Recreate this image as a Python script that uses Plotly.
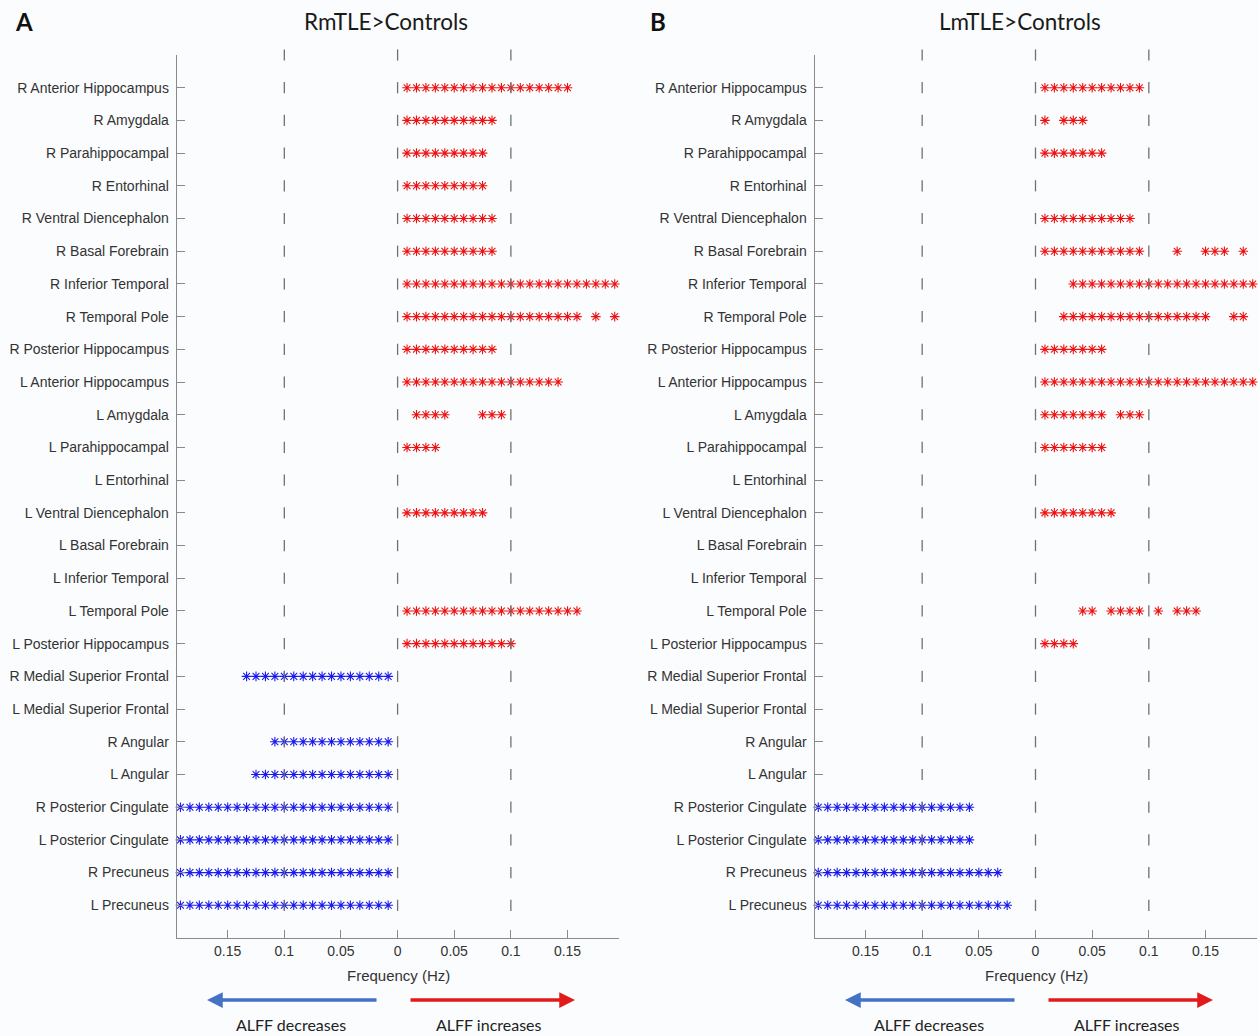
import plotly.graph_objects as go

# ---------------- data ----------------
regions = [
    "R Anterior Hippocampus", "R Amygdala", "R Parahippocampal", "R Entorhinal",
    "R Ventral Diencephalon", "R Basal Forebrain", "R Inferior Temporal",
    "R Temporal Pole", "R Posterior Hippocampus", "L Anterior Hippocampus",
    "L Amygdala", "L Parahippocampal", "L Entorhinal", "L Ventral Diencephalon",
    "L Basal Forebrain", "L Inferior Temporal", "L Temporal Pole",
    "L Posterior Hippocampus", "R Medial Superior Frontal", "L Medial Superior Frontal",
    "R Angular", "L Angular", "R Posterior Cingulate", "L Posterior Cingulate",
    "R Precuneus", "L Precuneus",
]

# frequency resolution of the ALFF spectrum (bin 12 falls on 0.1 Hz)
freq_step = 0.1 / 12

# significant frequency bins, given as (first bin, last bin) runs, per region
# Panel A: RmTLE > Controls
A_increases = [
    [(1, 18)], [(1, 10)], [(1, 9)], [(1, 9)], [(1, 10)], [(1, 10)], [(1, 23)],
    [(1, 19), (21, 21), (23, 23)], [(1, 10)], [(1, 17)], [(2, 5), (9, 11)],
    [(1, 4)], [], [(1, 9)], [], [], [(1, 19)], [(1, 12)],
    [], [], [], [], [], [], [], [],
]
A_decreases = [
    [], [], [], [], [], [], [], [], [], [], [], [], [], [], [], [], [], [],
    [(1, 16)], [], [(1, 13)], [(1, 15)], [(1, 23)], [(1, 23)], [(1, 23)], [(1, 23)],
]
# Panel B: LmTLE > Controls
B_increases = [
    [(1, 11)], [(1, 1), (3, 5)], [(1, 7)], [], [(1, 10)],
    [(1, 11), (15, 15), (18, 20), (22, 22)], [(4, 23)], [(3, 18), (21, 22)],
    [(1, 7)], [(1, 23)], [(1, 7), (9, 11)], [(1, 7)], [], [(1, 8)], [], [],
    [(5, 6), (8, 11), (13, 13), (15, 17)], [(1, 4)],
    [], [], [], [], [], [], [], [],
]
B_decreases = [
    [], [], [], [], [], [], [], [], [], [], [], [], [], [], [], [], [], [],
    [], [], [], [], [(7, 23)], [(7, 23)], [(4, 23)], [(3, 23)],
]

guide_freqs = [-0.1, 0.0, 0.1]
xtick_vals = [-0.15, -0.1, -0.05, 0, 0.05, 0.1, 0.15]
xtick_text = ["0.15", "0.1", "0.05", "0", "0.05", "0.1", "0.15"]
panel_titles = ["RmTLE>Controls", "LmTLE>Controls"]
panel_letters = ["A", "B"]

# ---------------- figure ----------------
W, H = 1258, 1036
RED = "#ee1111"
BLUE = "#1a1aee"
GUIDE = "#707070"
AXIS = "#8a8a8a"
BG = "#fbfcfd"


def points(runs_per_region, sign):
    xs, ys = [], []
    for i, runs in enumerate(runs_per_region):
        for a, b in runs:
            for k in range(a, b + 1):
                xs.append(sign * k * freq_step)
                ys.append(i + 1)
    return xs, ys


fig = go.Figure()
panels = [(A_increases, A_decreases), (B_increases, B_decreases)]
axes = [("x", "y"), ("x2", "y2")]
for (inc, dec), (xa, ya) in zip(panels, axes):
    for runs, sign, col in [(inc, 1, RED), (dec, -1, BLUE)]:
        xs, ys = points(runs, sign)
        fig.add_trace(go.Scatter(
            x=xs, y=ys, xaxis=xa, yaxis=ya, mode="markers", cliponaxis=False,
            marker=dict(symbol="asterisk-open", size=8, color=col,
                        line=dict(color=col, width=1.1)),
            hoverinfo="skip", showlegend=False))
    gx, gy = [], []
    for r in range(len(regions) + 1):
        for f in guide_freqs:
            gx.append(f)
            gy.append(r)
    fig.add_trace(go.Scatter(
        x=gx, y=gy, xaxis=xa, yaxis=ya, mode="markers", cliponaxis=False,
        marker=dict(symbol="line-ns-open", size=8, color=GUIDE,
                    line=dict(color=GUIDE, width=1.3)),
        hoverinfo="skip", showlegend=False))

ydom = [1 - 938 / H, 1 - 55 / H]
xdoms = [[176.7 / W, 618.5 / W], [814.5 / W, 1256.5 / W]]

common_x = dict(range=[-0.195, 0.195], tickvals=xtick_vals, ticktext=xtick_text,
                ticks="inside", ticklen=8, tickcolor=AXIS, showline=True,
                linecolor=AXIS, linewidth=1, showgrid=False, zeroline=False,
                tickfont=dict(family="Arial, Liberation Sans", size=14, color="#333333"))
common_y = dict(range=[27, 0], tickvals=list(range(1, len(regions) + 1)),
                ticktext=regions, ticks="inside", ticklen=8, tickcolor=AXIS,
                showline=True, linecolor=AXIS, linewidth=1, showgrid=False,
                zeroline=False, ticklabelstandoff=4,
                tickfont=dict(family="Arial, Liberation Sans", size=14, color="#333333"))

fig.update_layout(
    width=W, height=H, margin=dict(l=0, r=0, t=0, b=0),
    paper_bgcolor=BG, plot_bgcolor=BG,
    xaxis=dict(domain=xdoms[0], anchor="y", **common_x),
    yaxis=dict(domain=ydom, anchor="x", **common_y),
    xaxis2=dict(domain=xdoms[1], anchor="y2", **common_x),
    yaxis2=dict(domain=ydom, anchor="x2", **common_y),
)

ann = []
zero_px = [398, 1036]
title_px = [386, 1020]
letter_px = [24, 658]
for p in range(2):
    ann.append(dict(x=title_px[p] / W, y=1 - 22 / H, xref="paper", yref="paper",
                    text=panel_titles[p], showarrow=False, xanchor="center", yanchor="middle",
                    font=dict(family="Lato", size=22.5, color="#1a1a1a")))
    ann.append(dict(x=letter_px[p] / W, y=1 - 21 / H, xref="paper", yref="paper",
                    text="<b>%s</b>" % panel_letters[p], showarrow=False,
                    xanchor="center", yanchor="middle",
                    font=dict(family="Lato", size=24, color="#111111")))
    z = zero_px[p]
    ann.append(dict(x=z / W, y=1 - 975 / H, xref="paper", yref="paper",
                    text="Frequency (Hz)", showarrow=False, xanchor="center", yanchor="middle",
                    font=dict(family="Arial, Liberation Sans", size=15, color="#333333")))
    # arrows
    ann.append(dict(x=(z - 191) / W, y=1 - 1000 / H, xref="paper", yref="paper",
                    ax=171, ay=0, text="", showarrow=True, arrowhead=2, arrowsize=0.9,
                    arrowwidth=3.5, arrowcolor="#4472c4"))
    ann.append(dict(x=(z + 177) / W, y=1 - 1000 / H, xref="paper", yref="paper",
                    ax=-166, ay=0, text="", showarrow=True, arrowhead=2, arrowsize=0.9,
                    arrowwidth=3.5, arrowcolor="#e11b1b"))
    ann.append(dict(x=(z - 107) / W, y=1 - 1024 / H, xref="paper", yref="paper",
                    text="ALFF decreases", showarrow=False, xanchor="center", yanchor="middle",
                    font=dict(family="Lato", size=16, color="#222222")))
    ann.append(dict(x=(z + 91) / W, y=1 - 1024 / H, xref="paper", yref="paper",
                    text="ALFF increases", showarrow=False, xanchor="center", yanchor="middle",
                    font=dict(family="Lato", size=16, color="#222222")))
fig.update_layout(annotations=ann)

fig.write_html(
    "out.html",
    config={"displayModeBar": False},
    post_script="document.body.style.margin='0px';document.body.style.overflow='hidden';",
)
